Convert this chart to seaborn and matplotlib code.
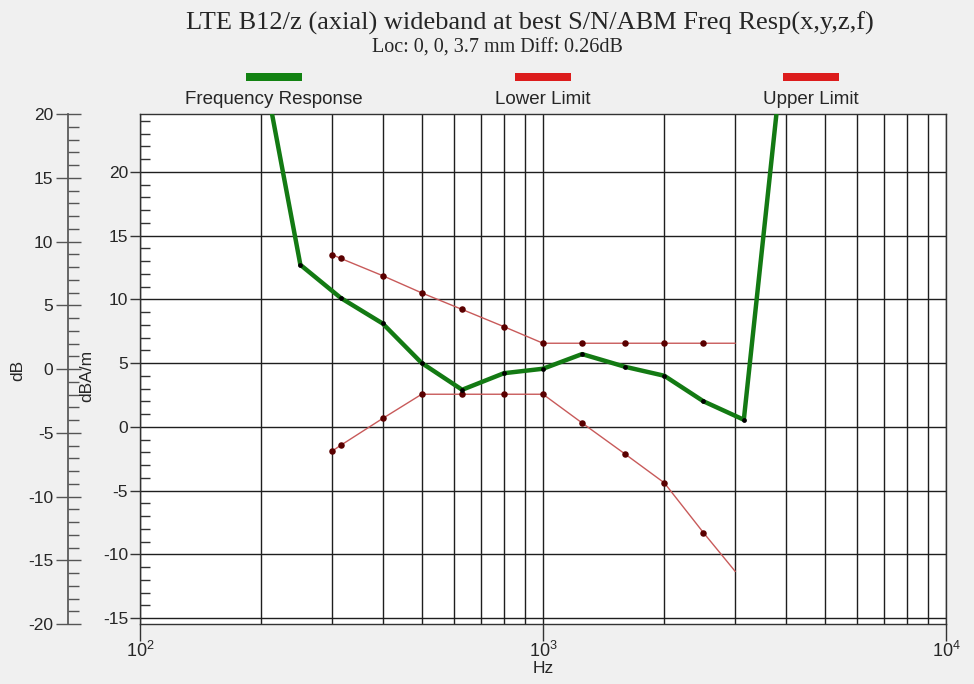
import matplotlib
matplotlib.use("Agg")
import matplotlib.pyplot as plt
from matplotlib.patches import Rectangle
from matplotlib.ticker import MultipleLocator, FixedLocator, LogLocator, NullFormatter
import seaborn as sns
import pandas as pd

# Measured frequency response (1/3-octave points), dBA/m
resp_freq = [200, 250, 315, 400, 500, 630, 800, 1000, 1250, 1600, 2000, 2500, 3150, 4000]
resp_level = [29.0, 12.7, 10.1, 8.1, 5.0, 2.9, 4.2, 4.55, 5.7, 4.7, 4.0, 2.0, 0.55, 31.3]

# Tolerance mask, dBA/m
limit_freq = [300, 315, 400, 500, 630, 800, 1000, 1250, 1600, 2000, 2500, 3000]
upper_limit = [13.5, 13.2, 11.85, 10.5, 9.2, 7.85, 6.55, 6.55, 6.55, 6.55, 6.55, 6.55]
lower_limit = [-1.9, -1.45, 0.65, 2.55, 2.55, 2.55, 2.55, 0.3, -2.15, -4.4, -8.3, -11.35]

series_names = ["Frequency Response", "Lower Limit", "Upper Limit"]
x_tick_values = [100, 1000, 10000]
db_ticks = list(range(-20, 21, 5))
db_minor_ticks = list(range(-20, 21))
db_offset = 4.53  # dBA/m scale relative to dB scale

sns.set_theme(style="white")
plt.rcParams["font.family"] = ["Liberation Sans", "DejaVu Sans"]
plt.rcParams["mathtext.default"] = "regular"
plt.rcParams["axes.unicode_minus"] = False

GREEN = "#137a13"
GREEN_KEY = "#128212"
RED_LINE = "#c85a5a"
RED_KEY = "#dc1c1c"
MARK = "#5a0000"
GRID = "#1e1e1e"
TICK_SIZE = 12.5

fig = plt.figure(figsize=(9.74, 6.84), dpi=100, facecolor="#f0f0f0")
W, H = 974, 684
ax = fig.add_axes([140 / W, 60 / H, 806 / W, 510 / H])
ax.set_facecolor("white")

resp = pd.DataFrame({"Hz": resp_freq, "dBA/m": resp_level})
lim = pd.DataFrame({"Hz": limit_freq, "upper": upper_limit, "lower": lower_limit})

# limit lines, markers on all but the end point
for col in ["upper", "lower"]:
    sns.lineplot(data=lim, x="Hz", y=col, ax=ax, color=RED_LINE, lw=1.0, zorder=3)
    sns.scatterplot(data=lim.iloc[:-1], x="Hz", y=col, ax=ax, color=MARK,
                    s=22, edgecolor=MARK, linewidth=0, zorder=4)

sns.lineplot(data=resp, x="Hz", y="dBA/m", ax=ax, color=GREEN, lw=3.2, zorder=5)
sns.scatterplot(data=resp, x="Hz", y="dBA/m", ax=ax, color="black",
                s=12, linewidth=0, zorder=6)

ax.set_xscale("log")
ax.set_xlim(100, 10000)
ax.set_ylim(-15.47, 40 - 15.47)

# x axis: decades labelled, all integer multiples gridded
ax.xaxis.set_major_locator(FixedLocator(x_tick_values))
ax.xaxis.set_minor_locator(LogLocator(base=10, subs=range(2, 10)))
ax.xaxis.set_minor_formatter(NullFormatter())
ax.tick_params(axis="x", which="major", direction="out", length=12, width=1,
               color="#333333", labelsize=13, pad=0, bottom=True)
ax.tick_params(axis="x", which="minor", length=0)

# inner y axis (dBA/m)
ax.yaxis.set_major_locator(MultipleLocator(5))
ax.yaxis.set_minor_locator(MultipleLocator(1))
ax.tick_params(axis="y", which="major", direction="out", length=7, width=1,
               color="#333333", labelsize=TICK_SIZE, pad=1.5, left=True)
ax.tick_params(axis="y", which="minor", direction="in", length=7, width=1,
               color="#333333", left=True)

ax.grid(True, axis="x", which="both", color=GRID, lw=1.0)
ax.grid(True, axis="y", which="major", color=GRID, lw=1.0)
ax.set_axisbelow(True)
for sp in ax.spines.values():
    sp.set_visible(True)
    sp.set_color("#333333")
    sp.set_linewidth(1.0)

ax.set_xlabel("Hz", fontsize=TICK_SIZE, labelpad=0)
ax.set_ylabel("dBA/m", fontsize=TICK_SIZE)
ax.yaxis.set_label_coords(87 / W, 1 - 376 / H, transform=fig.transFigure)
ax.yaxis.label.set_va("center")

# outer y axis (dB)
sec = ax.secondary_yaxis(-(140 - 68) / 806,
                         functions=(lambda y: y - db_offset, lambda y: y + db_offset))
sec.yaxis.set_major_locator(FixedLocator(db_ticks))
sec.yaxis.set_minor_locator(FixedLocator(db_minor_ticks))
sec.tick_params(axis="y", which="major", direction="inout", length=18, width=1,
                color="#555555", labelsize=TICK_SIZE, pad=1.5)
sec.tick_params(axis="y", which="minor", direction="in", length=8, width=1,
                color="#555555")
for sp in sec.spines.values():
    sp.set_color("#555555")
sec.set_ylabel("dB", fontsize=TICK_SIZE)
sec.yaxis.set_label_coords(18 / W, 1 - 370 / H, transform=fig.transFigure)
sec.yaxis.label.set_va("center")

# titles
fig.text(530 / W, 1 - 23 / H, "LTE B12/z (axial) wideband at best S/N/ABM Freq Resp(x,y,z,f)",
         ha="center", va="center", fontsize=19, family="Liberation Serif")
fig.text(497 / W, 1 - 48 / H, "Loc: 0, 0, 3.7 mm Diff: 0.26dB",
         ha="center", va="center", fontsize=14.5, family="Liberation Serif")

# key: coloured bar above each series name
key_colors = [GREEN_KEY, RED_KEY, RED_KEY]
key_centers = [274, 543, 811]
for name, c, xc in zip(series_names, key_colors, key_centers):
    fig.add_artist(Rectangle(((xc - 28) / W, 1 - 81 / H), 56 / W, 8 / H,
                             transform=fig.transFigure, facecolor=c,
                             edgecolor="none"))
    fig.text(xc / W, 1 - 100 / H, name, ha="center", va="center", fontsize=13.5)

fig.savefig("out.png", dpi=100, facecolor=fig.get_facecolor())
